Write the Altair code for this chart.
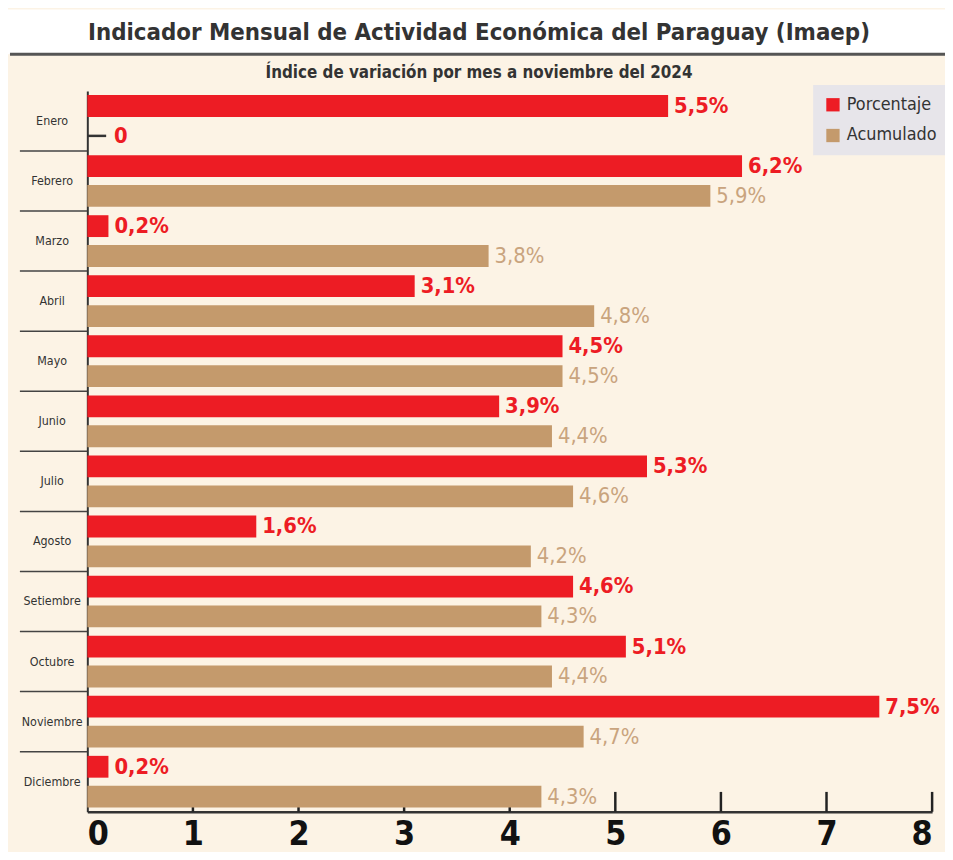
import altair as alt
import pandas as pd

months = ["Enero", "Febrero", "Marzo", "Abril", "Mayo", "Junio", "Julio",
          "Agosto", "Setiembre", "Octubre", "Noviembre", "Diciembre"]
porcentaje = [5.5, 6.2, 0.2, 3.1, 4.5, 3.9, 5.3, 1.6, 4.6, 5.1, 7.5, 0.2]
acumulado = [0, 5.9, 3.8, 4.8, 4.5, 4.4, 4.6, 4.2, 4.3, 4.4, 4.7, 4.3]
series = ["Porcentaje", "Acumulado"]
x_ticks = [0, 1, 2, 3, 4, 5, 6, 7, 8]

title_text = "Indicador Mensual de Actividad Económica  del Paraguay (Imaep)"
subtitle_text = "Índice de variación por mes a noviembre del 2024"

FONT = "DejaVu Sans Condensed, sans-serif"
RED = "#ED1C24"
TAN = "#C49A6C"
TAN_TXT = "#C9A47E"
BG = "#FCF3E5"
W, H = 852, 727


def fmt(v):
    if v == 0:
        return "0"
    return f"{v:.1f}".replace(".", ",") + "%"


rows = []
for m, p, a in zip(months, porcentaje, acumulado):
    rows.append({"mes": m, "serie": "Porcentaje", "valor": p, "label": fmt(p)})
    rows.append({"mes": m, "serie": "Acumulado", "valor": a, "label": fmt(a)})
df = pd.DataFrame(rows)

y_enc = alt.Y("mes:N", sort=months,
              scale=alt.Scale(domain=months, paddingInner=0, paddingOuter=0),
              axis=alt.Axis(title=None, ticks=False, domain=True, domainColor="#333",
                            domainWidth=2, labelAlign="center", labelPadding=36,
                            labelFontSize=12.5, labelFont=FONT, labelColor="#333"))
yoff = alt.YOffset("serie:N", sort=series,
                   scale=alt.Scale(domain=series, paddingInner=0.27, paddingOuter=0.14))
x_enc = alt.X("valor:Q", scale=alt.Scale(domain=[0, 8], nice=False),
              axis=alt.Axis(values=x_ticks, title=None, ticks=False, grid=False,
                            format="d", labelFontSize=34, labelFontWeight="bold",
                            labelFont=FONT, labelColor="#111", labelPadding=33,
                            labelBaseline="alphabetic",
                            domainColor="#333", domainWidth=2.5))

base = alt.Chart(df)

# inward ticks on x axis
tick_df = pd.DataFrame({"v": x_ticks[1:]})
xticks = alt.Chart(tick_df).mark_rule(color="#222", strokeWidth=2.5).encode(
    x=alt.X("v:Q", scale=alt.Scale(domain=[0, 8], nice=False)),
    y=alt.value(H - 20), y2=alt.value(H))

bars = base.mark_bar().encode(
    x=x_enc, y=y_enc, yOffset=yoff,
    color=alt.Color("serie:N", scale=alt.Scale(domain=series, range=[RED, TAN]),
                    legend=alt.Legend(title=None, orient="none", legendX=732, legendY=-6,
                                      fillColor="#E7E5EA", padding=11, symbolType="square",
                                      symbolSize=180, symbolStrokeWidth=0,
                                      labelFontSize=18, labelFont=FONT, labelColor="#333",
                                      rowPadding=13, symbolOffset=0, labelOffset=5)))

txt_red = base.transform_filter(alt.datum.serie == "Porcentaje").mark_text(
    align="left", baseline="middle", dx=6, fontSize=22, fontWeight="bold",
    font=FONT, color=RED).encode(x="valor:Q", y=alt.Y("mes:N", sort=months),
                                 yOffset=alt.YOffset("serie:N", sort=series), text="label:N")

txt_tan = base.transform_filter(
    (alt.datum.serie == "Acumulado") & (alt.datum.valor > 0)).mark_text(
    align="left", baseline="middle", dx=6, fontSize=22, fontWeight="normal",
    font=FONT, color=TAN_TXT).encode(x="valor:Q", y=alt.Y("mes:N", sort=months),
                                     yOffset=alt.YOffset("serie:N", sort=series), text="label:N")

zero_df = base.transform_filter(
    (alt.datum.serie == "Acumulado") & (alt.datum.valor == 0))
txt_zero = zero_df.mark_text(
    align="left", baseline="middle", dx=27, fontSize=22, fontWeight="bold",
    font=FONT, color=RED).encode(x="valor:Q", y=alt.Y("mes:N", sort=months),
                                 yOffset=alt.YOffset("serie:N", sort=series), text="label:N")
dash = zero_df.mark_rule(color="#333", strokeWidth=2.5).encode(
    x="valor:Q", x2=alt.value(19), y=alt.Y("mes:N", sort=months),
    yOffset=alt.YOffset("serie:N", sort=series))

# separators between months on the left
sep_df = pd.DataFrame({"mes": months[1:]})
seps = alt.Chart(sep_df).mark_rule(color="#444", strokeWidth=1.5).encode(
    y=alt.Y("mes:N", sort=months, bandPosition=0),
    x=alt.value(-68), x2=alt.value(0))

# header decoration
hdr_df = pd.DataFrame({"t": [title_text], "s": [subtitle_text]})
hdr = alt.Chart(hdr_df)
white = hdr.mark_rect(color="white").encode(
    x=alt.value(-82), x2=alt.value(W + 13), y=alt.value(-82), y2=alt.value(-37))
line = hdr.mark_rule(color="#555", strokeWidth=3).encode(
    x=alt.value(-78), x2=alt.value(W + 13), y=alt.value(-37))
title = hdr.mark_text(fontSize=24, fontWeight="bold", font=FONT, color="#333",
                      baseline="middle").encode(
    x=alt.value(395), y=alt.value(-58), text="t:N")
subtitle = hdr.mark_text(fontSize=17, fontWeight="bold", font=FONT, color="#333",
                         baseline="middle").encode(
    x=alt.value(395), y=alt.value(-18), text="s:N")

chart = alt.layer(white, line, title, subtitle, seps, xticks, bars, dash,
                  txt_red, txt_tan, txt_zero).properties(
    width=W, height=H,
    autosize=alt.AutoSizeParams(type="none"),
    padding={"left": 80, "top": 80, "right": 13, "bottom": 37},
    background=BG,
).configure_view(stroke=None)

chart.save("out.html", embed_options={"renderer": "svg", "actions": False})
